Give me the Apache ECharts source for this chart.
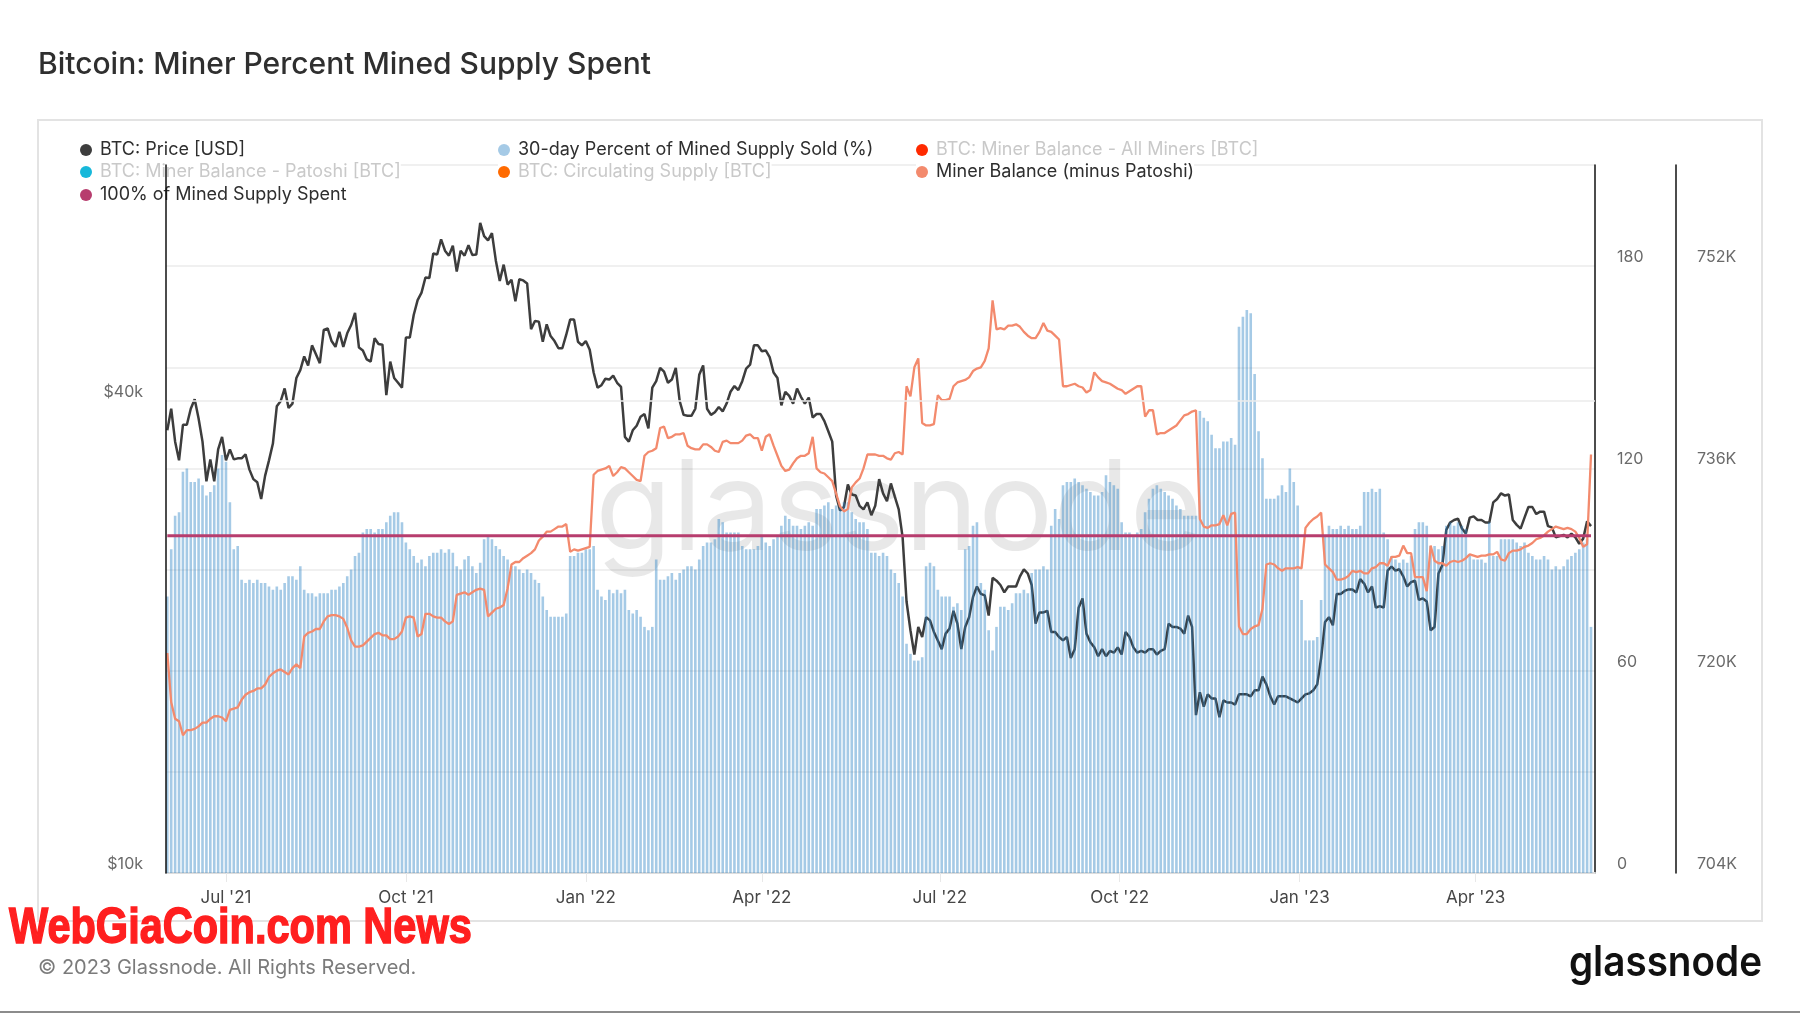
<!DOCTYPE html>
<html>
<head>
<meta charset="utf-8">
<script src="https://cdn.jsdelivr.net/npm/echarts@6/dist/echarts.min.js"></script>
<style>
html,body{margin:0;padding:0;background:#fff;}
#chart{width:1800px;height:1013px;}
</style>
</head>
<body>
<div id="chart"></div>
<script>
// ---------------- DATA (one value every 2 days, starting 2021-06-01) ----------------
const startDate = [2021, 5, 1];   // UTC year, monthIndex, day
const stepDays = 2;

// BTC: Price [USD]
const price = [
  // Jun 2021
  36700, 39100, 35500, 33600, 37300, 37300, 39100, 40200, 38000, 35500, 31600, 33700, 31600, 34700, 36000,
  // Jul 2021
  33600, 34700, 33700, 33800, 33800, 34200, 32700, 31800, 31500, 30000, 32100, 33600, 35300, 39400, 40000, 41500,
  // Aug 2021
  39200, 39700, 42800, 43800, 45600, 44400, 47100, 45900, 44700, 49300, 49500, 47700, 46900, 49000, 46900,
  // Sep 2021
  48800, 50000, 51800, 46800, 46400, 45200, 44900, 48100, 47300, 47200, 40700, 44900, 42800, 42200, 41600,
  // Oct 2021
  48200, 48200, 51500, 53800, 55000, 57500, 57400, 61700, 61500, 64300, 62200, 61300, 63100, 58500, 62200, 61300,
  // Nov 2021
  63200, 61400, 61500, 67500, 64900, 64100, 65500, 60400, 56900, 59700, 56300, 57100, 53600, 57200, 57000,
  // Dec 2021
  56500, 49400, 50600, 50500, 47600, 50100, 48400, 47700, 46700, 46700, 48600, 50800, 50800, 47600, 47100,
  // Jan 2022
  47700, 46500, 43500, 41600, 41900, 42700, 42600, 43100, 42200, 41700, 36000, 35500, 36700, 37200, 38200, 38500,
  // Feb 2022
  36900, 41600, 42400, 44100, 43600, 42200, 42600, 44100, 40000, 38400, 38300, 38300, 39100, 43200,
  // Mar 2022
  44400, 39100, 38400, 38700, 39300, 38800, 39700, 41100, 41800, 41300, 42400, 44000, 44500, 47100, 47100,
  // Apr 2022
  46300, 46400, 45500, 43500, 42800, 39500, 41100, 40600, 39700, 41500, 40500, 39700, 40400, 38100, 38500,
  // May 2022
  38500, 37700, 36600, 35500, 30300, 29000, 29300, 31300, 30400, 30300, 29400, 29100, 29700, 28600, 29400, 31800,
  // Jun 2022
  30500, 29800, 31400, 30200, 29100, 26800, 22200, 20400, 19000, 20600, 20000, 21200, 21000, 20300, 19800,
  // Jul 2022
  19300, 20200, 20500, 21600, 20800, 19300, 20600, 21200, 22500, 23200, 22700, 22600, 21300, 23800, 23600,
  // Aug 2022
  23300, 22800, 23200, 23200, 23200, 23900, 24400, 24100, 23300, 20800, 21500, 21500, 21600, 20300, 20300, 20000,
  // Sep 2022
  19800, 20000, 18800, 19300, 21800, 22400, 20200, 19700, 19400, 18900, 19300, 18900, 19200, 19100, 19400,
  // Oct 2022
  19000, 20300, 20000, 19400, 19100, 19200, 19100, 19300, 19300, 19000, 19200, 19300, 20800, 20600, 20600,
  // Nov 2022
  20500, 20200, 21300, 20600, 15900, 17000, 16300, 16900, 16700, 16700, 15800, 16600, 16500, 16500, 16400,
  // Dec 2022
  16900, 16900, 16900, 16800, 17100, 17100, 17800, 17400, 16800, 16400, 16800, 16800, 16800, 16700, 16600, 16500,
  // Jan 2023
  16700, 16900, 16950, 17100, 17400, 18800, 20900, 21200, 20700, 22700, 22700, 22900, 23000, 23000, 22800,
  // Feb 2023
  23700, 23400, 22800, 23200, 21800, 21900, 21800, 24300, 24600, 24300, 24400, 23900, 23200, 23500,
  // Mar 2023
  23600, 22300, 22400, 22200, 20400, 20600, 24100, 24700, 27400, 28000, 28200, 28300, 27500, 27100, 28400, 28500,
  // Apr 2023
  28200, 28200, 28000, 28000, 29700, 30000, 30500, 30300, 30400, 28200, 27800, 27500, 28400, 29300, 29300,
  // May 2023
  28700, 28900, 28900, 27700, 27600, 26800, 26900, 27000, 26800, 27100, 26800, 26300, 26700, 28100, 27700
];

// 30-day Percent of Mined Supply Sold (%)
const pctSold = [
  82, 96, 106, 107, 119, 120, 116, 116, 117, 115,
  112, 113, 115, 120, 124, 122, 110, 96, 97, 87,
  86, 87, 86, 87, 86, 86, 85, 84, 85, 84,
  86, 88, 88, 87, 91, 84, 83, 83, 82, 83,
  83, 83, 84, 84, 85, 86, 88, 90, 94, 95,
  101, 102, 102, 101, 102, 102, 104, 106, 107, 107,
  104, 98, 96, 94, 92, 93, 91, 94, 95, 95,
  96, 95, 96, 95, 91, 90, 93, 94, 91, 89,
  92, 99, 100, 99, 97, 96, 94, 93, 91, 91,
  90, 89, 90, 89, 87, 86, 82, 78, 76, 76,
  76, 76, 77, 94, 94, 95, 95, 96, 96, 97,
  84, 82, 81, 84, 83, 84, 83, 84, 78, 77,
  78, 76, 73, 72, 73, 93, 87, 87, 88, 89,
  87, 89, 90, 91, 91, 90, 93, 97, 98, 98,
  99, 105, 104, 101, 101, 101, 101, 97, 96, 96,
  96, 97, 100, 98, 97, 99, 100, 103, 106, 105,
  103, 103, 102, 103, 104, 103, 108, 108, 109, 110,
  108, 109, 109, 110, 110, 107, 105, 104, 104, 102,
  95, 95, 94, 95, 94, 90, 89, 86, 82, 68,
  65, 63, 63, 64, 91, 92, 91, 84, 82, 82,
  82, 79, 80, 78, 96, 97, 103, 104, 86, 84,
  72, 66, 73, 79, 79, 78, 80, 83, 83, 84,
  83, 89, 90, 90, 91, 90, 103, 108, 105, 115,
  116, 116, 117, 116, 115, 114, 113, 112, 112, 113,
  118, 116, 115, 114, 104, 101, 101, 100, 101, 102,
  107, 111, 114, 115, 114, 113, 112, 111, 109, 108,
  106, 106, 106, 106, 137, 135, 134, 130, 126, 126,
  128, 128, 129, 127, 162, 165, 167, 166, 148, 131,
  123, 111, 111, 111, 112, 115, 113, 120, 116, 109,
  81, 69, 69, 69, 70, 81, 100, 103, 102, 102,
  103, 102, 103, 102, 102, 103, 113, 113, 114, 113,
  114, 101, 99, 94, 93, 92, 93, 92, 94, 102,
  104, 104, 103, 97, 97, 96, 97, 103, 104, 103,
  104, 103, 102, 94, 93, 93, 93, 92, 104, 94,
  94, 99, 99, 99, 99, 98, 97, 98, 95, 94,
  93, 93, 94, 93, 90, 91, 90, 91, 93, 94,
  95, 96, 98, 99, 73
];

// Miner Balance (minus Patoshi) [BTC]
const minerBalance = [
  721400, 717500, 716200, 716000, 714900, 715300, 715300, 715400, 715600, 715900,
  715900, 716200, 716400, 716400, 716300, 716000, 716900, 717000, 717100, 717700,
  718100, 718300, 718400, 718600, 718600, 718900, 719500, 719800, 720000, 720100,
  719900, 719700, 720200, 720500, 720200, 722700, 723000, 723100, 723300, 723300,
  723900, 724300, 724400, 724400, 724300, 724100, 723400, 722400, 721900, 721900,
  722000, 722300, 722600, 722900, 723000, 722800, 722800, 722500, 722500, 722700,
  723100, 724200, 724300, 724200, 722700, 722900, 724500, 724500, 724300, 724200,
  724200, 723900, 723700, 723900, 726000, 726100, 726200, 726000, 726200, 726400,
  726500, 726400, 724300, 724600, 724900, 725000, 725200, 726500, 728400, 728600,
  728600, 728900, 729100, 729300, 729600, 730300, 730600, 731000, 731000, 731200,
  731400, 731400, 731600, 729400, 729600, 729500, 729600, 729700, 729800, 735500,
  735800, 735900, 736000, 736200, 735400, 735700, 736100, 736000, 735700, 735400,
  735100, 735000, 737000, 737300, 737400, 737600, 739200, 739300, 738400, 738500,
  738700, 738700, 738800, 737800, 737600, 737500, 737500, 737900, 737900, 737700,
  737400, 737300, 738100, 738200, 738000, 738000, 738000, 738200, 738600, 738700,
  738400, 738400, 737400, 738500, 738700, 737800, 737000, 736200, 735800, 735900,
  736400, 736800, 737000, 737000, 737200, 738500, 736000, 735700, 735600, 735300,
  735000, 734000, 733000, 732600, 732800, 734500, 734900, 735200, 736000, 737100,
  737100, 737100, 737000, 737000, 736800, 736700, 737200, 737300, 737100, 742500,
  741700, 744000, 744700, 739600, 739400, 739400, 739500, 741800, 741400, 741400,
  741500, 742500, 742800, 742900, 743000, 743200, 743700, 743900, 744000, 744500,
  745500, 749300, 747000, 747100, 747000, 747300, 747300, 747400, 747200, 746800,
  746500, 746300, 746300, 746800, 747500, 746900, 746800, 746500, 746200, 742500,
  742500, 742600, 742700, 742500, 742400, 742000, 742200, 743600, 743200, 742900,
  742800, 742700, 742500, 742300, 742200, 741900, 742100, 742300, 742500, 742500,
  740100, 740600, 740600, 738700, 738800, 738800, 739000, 739200, 739400, 739800,
  740200, 740300, 740500, 740600, 732000, 731400, 731300, 731500, 731500, 731600,
  732300, 731500, 732400, 732500, 723500, 722900, 722900, 723300, 723500, 723600,
  724900, 728400, 728500, 728400, 728100, 727900, 728100, 728100, 728100, 728200,
  728100, 731300, 731700, 732000, 732200, 732500, 728400, 728100, 727800, 727200,
  727200, 727300, 727500, 727900, 727800, 727900, 727700, 727700, 728100, 728200,
  728500, 728500, 728300, 729000, 729000, 729100, 729900, 729300, 729300, 727400,
  727400, 727400, 726300, 729900, 728700, 728500, 728500, 728300, 728600, 728700,
  728600, 728700, 728900, 729200, 729100, 729000, 729100, 729100, 729200, 729200,
  729400, 728800, 728700, 729300, 729500, 729500, 729600, 729800, 729900, 730100,
  730400, 730500, 730700, 731000, 731200, 731400, 731300, 731200, 731300, 731200,
  731000, 730500, 729800, 730000, 737100
];

// 100% of Mined Supply Spent (level on the % axis)
const fullySpentLevel = 100;

// Axis ticks and labels
const xTickDates = [[2021,6,1],[2021,9,1],[2022,0,1],[2022,3,1],[2022,6,1],[2022,9,1],[2023,0,1],[2023,3,1]];
const xTickLabels = ["Jul '21", "Oct '21", "Jan '22", "Apr '22", "Jul '22", "Oct '22", "Jan '23", "Apr '23"];
const priceTicks = [10000, 40000];
const priceTickLabels = ['$10k', '$40k'];
const pctTicks = [0, 60, 120, 180];
const supplyTicks = [704000, 720000, 736000, 752000];
const supplyTickLabels = ['704K', '720K', '736K', '752K'];

// ---------------- BUILD ----------------
const DAY = 86400000;
const t0 = Date.UTC(startDate[0], startDate[1], startDate[2]);
const dates = price.map((_, i) => t0 + i * stepDays * DAY);
const xTickTimes = xTickDates.map(d => Date.UTC(d[0], d[1], d[2]));
const lastT = dates[dates.length - 1];

const priceData = price.map((v, i) => [dates[i], v]);
const pctData = pctSold.map((v, i) => [dates[i], v]);
const balanceData = minerBalance.map((v, i) => [dates[i], v]);
const spentData = [[dates[0], fullySpentLevel], [lastT, fullySpentLevel]];

const FONT = 'Inter, "Noto Sans", sans-serif';
const C = {
  price: '#3d3d3d',
  bars: 'rgba(41,128,195,0.42)',
  allMiners: '#ff2a00',
  patoshi: '#17b8da',
  circ: '#ff6a00',
  balance: '#f38a6d',
  spent: '#b73d6e'
};

function legendItem(name, left, top, grey) {
  return {
    left: left, top: top, padding: 0, itemGap: 0,
    itemWidth: 12, itemHeight: 12, icon: 'circle',
    backgroundColor: '#ffffff', selectedMode: false, z: 4,
    textStyle: { fontFamily: FONT, fontSize: 18, lineHeight: 20, color: grey ? '#c9c9c9' : '#2e2e2e', padding: [0, 0, 0, 3] },
    data: [{ name: name }]
  };
}

const chart = echarts.init(document.getElementById('chart'), null, { renderer: 'canvas' });

const option = {
  animation: false,
  backgroundColor: '#ffffff',
  grid: { left: 166, right: 205, top: 165, bottom: 140 },
  legend: [
    legendItem('BTC: Price [USD]', 80, 140, false),
    legendItem('30-day Percent of Mined Supply Sold (%)', 498, 140, false),
    legendItem('BTC: Miner Balance - All Miners [BTC]', 916, 140, true),
    legendItem('BTC: Miner Balance - Patoshi [BTC]', 80, 162, true),
    legendItem('BTC: Circulating Supply [BTC]', 498, 162, true),
    legendItem('Miner Balance (minus Patoshi)', 916, 162, false),
    legendItem('100% of Mined Supply Spent', 80, 185, false)
  ],
  xAxis: {
    type: 'value',
    min: Date.UTC(2021, 4, 31, 8),
    max: Date.UTC(2023, 5, 1, 1),
    axisLine: { show: true, lineStyle: { color: '#dddddd', width: 2 } },
    axisTick: { show: true, customValues: xTickTimes, length: 9, lineStyle: { color: '#e8e8e8', width: 1 } },
    axisLabel: {
      customValues: xTickTimes,
      formatter: function (v) { const i = xTickTimes.indexOf(v); return i >= 0 ? xTickLabels[i] : ''; },
      color: '#464646', fontSize: 17, fontFamily: FONT, margin: 16
    },
    splitLine: { show: false }
  },
  yAxis: [
    {
      type: 'log', logBase: 10, min: 10000, max: 80000, position: 'left', z: 10,
      axisLine: { show: true, lineStyle: { color: '#111111', width: 1.5 } },
      axisTick: { show: false },
      splitLine: { show: false },
      axisLabel: {
        customValues: priceTicks,
        formatter: function (v) { const i = priceTicks.indexOf(Math.round(v)); return i >= 0 ? priceTickLabels[i] : ''; },
        color: '#6a6a6a', fontSize: 16, fontFamily: FONT, margin: 23,
        verticalAlign: 'bottom', padding: [0, 0, 1, 0]
      }
    },
    {
      type: 'value', min: 0, max: 210, interval: 30, position: 'right',
      axisLine: { show: true, lineStyle: { color: '#111111', width: 1.5 } },
      axisTick: { show: false },
      splitLine: { show: true, lineStyle: { color: '#ebebeb', width: 1.5 } },
      axisLabel: {
        formatter: function (v) { return pctTicks.indexOf(v) >= 0 ? String(v) : ''; },
        color: '#6a6a6a', fontSize: 16, fontFamily: FONT, margin: 22, align: 'left',
        verticalAlign: 'bottom', padding: [0, 0, 1, 0]
      }
    },
    {
      type: 'value', min: 704000, max: 760000, interval: 8000, position: 'right', offset: 81,
      axisLine: { show: true, lineStyle: { color: '#111111', width: 1.5 } },
      axisTick: { show: false },
      splitLine: { show: false },
      axisLabel: {
        formatter: function (v) { const i = supplyTicks.indexOf(v); return i >= 0 ? supplyTickLabels[i] : ''; },
        color: '#6a6a6a', fontSize: 16, fontFamily: FONT, margin: 21, align: 'left',
        verticalAlign: 'bottom', padding: [0, 0, 1, 0]
      }
    }
  ],
  series: [
    {
      name: 'BTC: Price [USD]', type: 'line', yAxisIndex: 0, z: 2,
      data: priceData, showSymbol: false, symbol: 'none',
      lineStyle: { color: C.price, width: 2.5 }, itemStyle: { color: C.price },
      markLine: {
        silent: true, symbol: ['none', 'none'], label: { show: false },
        lineStyle: { color: '#ebebeb', width: 1.5, type: 'solid' },
        data: [{ yAxis: priceTicks[1] }]
      }
    },
    {
      name: '30-day Percent of Mined Supply Sold (%)', type: 'bar', yAxisIndex: 1, z: 3,
      data: pctData, barWidth: 2.6, itemStyle: { color: C.bars }
    },
    { name: 'BTC: Miner Balance - All Miners [BTC]', type: 'line', yAxisIndex: 2, data: [], itemStyle: { color: C.allMiners }, lineStyle: { color: C.allMiners } },
    { name: 'BTC: Miner Balance - Patoshi [BTC]', type: 'line', yAxisIndex: 2, data: [], itemStyle: { color: C.patoshi }, lineStyle: { color: C.patoshi } },
    { name: 'BTC: Circulating Supply [BTC]', type: 'line', yAxisIndex: 2, data: [], itemStyle: { color: C.circ }, lineStyle: { color: C.circ } },
    {
      name: 'Miner Balance (minus Patoshi)', type: 'line', yAxisIndex: 2, z: 4,
      data: balanceData, showSymbol: false, symbol: 'none',
      lineStyle: { color: C.balance, width: 2.3 }, itemStyle: { color: C.balance }
    },
    {
      name: '100% of Mined Supply Spent', type: 'line', yAxisIndex: 1, z: 5,
      data: spentData, showSymbol: false, symbol: 'none',
      lineStyle: { color: C.spent, width: 3 }, itemStyle: { color: C.spent }
    }
  ],
  graphic: [
    { type: 'rect', silent: true, z: -1, shape: { x: 38, y: 120, width: 1724, height: 801 }, style: { fill: 'none', stroke: '#e3e3e3', lineWidth: 2 } },
    { type: 'text', silent: true, z: 1, style: { text: 'glassnode', x: 899, y: 512, align: 'center', verticalAlign: 'middle', font: '400 125px Inter, sans-serif', fill: 'rgba(0,0,0,0.09)' } },
    { type: 'text', silent: true, style: { text: 'Bitcoin: Miner Percent Mined Supply Spent', x: 38, y: 65, verticalAlign: 'middle', font: '500 30px Inter, sans-serif', fill: '#2f2f2f' } },
    { type: 'text', silent: true, z: 20, x: 9, y: 929, scaleX: 0.83, style: { text: 'WebGiaCoin.com News', x: 0, y: 0, verticalAlign: 'middle', font: 'bold 50px "Liberation Sans", Arial, sans-serif', fill: '#ff1f1f', stroke: '#ff1f1f', lineWidth: 1.5 } },
    { type: 'text', silent: true, style: { text: '© 2023 Glassnode. All Rights Reserved.', x: 38, y: 968, verticalAlign: 'middle', font: '400 20px Inter, sans-serif', fill: '#7b7b7b' } },
    { type: 'text', silent: true, x: 1762, y: 963, scaleX: 0.92, style: { text: 'glassnode', x: 0, y: 0, align: 'right', verticalAlign: 'middle', font: '600 42px Inter, sans-serif', fill: '#111111' } },
    { type: 'rect', silent: true, shape: { x: 0, y: 1011, width: 1800, height: 2 }, style: { fill: '#8c8c8c' } }
  ]
};

chart.setOption(option);
</script>
</body>
</html>
